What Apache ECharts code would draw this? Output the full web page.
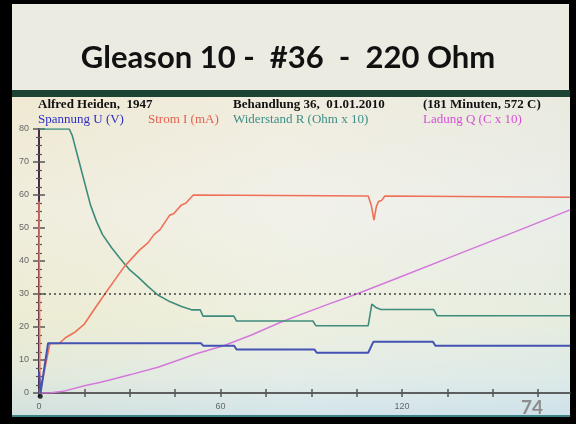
<!DOCTYPE html>
<html>
<head>
<meta charset="utf-8">
<script src="https://cdn.jsdelivr.net/npm/echarts@6/dist/echarts.min.js"></script>
<style>
  html, body { margin: 0; padding: 0; background: #000; }
  #main { width: 576px; height: 424px; }
</style>
</head>
<body>
<div id="main"></div>
<script>
const spannungU = [
  [0, 6.5], [0.5, 0], [3, 15.1], [53.5, 15.1], [54.3, 14.3], [64.5, 14.3], [65.3, 13.2],
  [91, 13.2], [91.8, 12.2], [108.8, 12.2], [110.5, 15.5], [130.2, 15.5], [131, 14.3], [175.5, 14.3]
]
const stromI = [
  [0, 58], [0.3, 0], [3.6, 15], [6.6, 15], [9, 16.9], [12, 18.5], [15, 20.9], [18, 25],
  [21.7, 29.9], [25, 34.2], [28.2, 38.3], [33.2, 43.3], [36, 45.5], [38, 48], [40, 49.5],
  [43.2, 53.9], [44.5, 54.3], [47.1, 57], [48.5, 57.5], [51, 60], [108.8, 59.7], [109.8, 57],
  [110.7, 52.4], [111.5, 56.5], [112.2, 58], [113.2, 58.3], [114.3, 59.7], [175.5, 59.3]
]
const widerstandR = [
  [0, 80], [10, 80], [11, 78], [13, 71], [15, 64], [17, 57], [19, 52], [21, 48], [24, 44],
  [27, 40.5], [30, 37.3], [32.7, 35.2], [36, 32.3], [39.3, 29.7], [43.2, 27.7], [47.1, 26.2],
  [50.4, 25.2], [53.3, 25.2], [54.2, 23.3], [64.4, 23.3], [65.3, 21.8], [90.5, 21.8], [91.5, 20.4],
  [108.8, 20.4], [110, 26.9], [111.5, 25.8], [113, 25.3], [130.4, 25.3], [131.6, 23.4], [175.5, 23.4]
]
const ladungQ = [
  [0, 0], [4, 0.1], [8, 0.5], [15, 2.2], [20, 3.2], [25, 4.3], [30, 5.5], [39.3, 7.8], [45, 9.6],
  [52, 11.9], [61, 14.3], [70, 17.5], [79.3, 21.2], [86, 23.6], [95, 26.7], [105, 30],
  [120, 35.4], [140, 42.6], [160, 49.8], [175.5, 55.5]
]
const nullPunkt = [[0.4, -1]]
const xTicks = [0, 15, 30, 45, 60, 75, 90, 105, 120, 135, 150, 165]
const xLabels = [0, 60, 120]
const yLabels = [0, 10, 20, 30, 40, 50, 60, 70, 80]

const chart = echarts.init(document.getElementById('main'), null, { renderer: 'canvas' })

const serif = '"Liberation Serif", "DejaVu Serif", serif'
const sans = '"Liberation Sans", Arial, sans-serif'

const axisGray = '#555'

function xAxisDef(inside, showLabel) {
  return {
    type: 'value', min: 0, max: 175.5, position: 'bottom',
    axisLine: { show: true, onZero: false, lineStyle: { color: axisGray, width: 1.5 } },
    axisTick: { show: true, inside, length: 4, customValues: xTicks, lineStyle: { color: axisGray, width: 1.5 } },
    axisLabel: { show: showLabel, customValues: xLabels, color: '#666', fontSize: 9, fontFamily: sans, margin: 9 },
    splitLine: { show: false }
  }
}
function yAxisDef(inside, showLabel) {
  return {
    type: 'value', min: 0, max: 80, interval: 10, position: 'left',
    axisLine: { show: true, onZero: false, lineStyle: { color: '#4a2a48', width: 2 } },
    axisTick: { show: true, inside, length: 6, lineStyle: { color: axisGray, width: 1.5 } },
    minorTick: { show: true, splitNumber: 4, length: 3, lineStyle: { color: axisGray, width: 1.2 } },
    axisLabel: {
      show: showLabel, color: '#666', fontSize: 9, fontFamily: sans, margin: 10,
      formatter: v => (yLabels.indexOf(v) >= 0 ? String(v) : '')
    },
    splitLine: { show: false }
  }
}

function lineSeries(name, data, color, width) {
  return {
    name, type: 'line', data, xAxisIndex: 0, yAxisIndex: 0,
    symbol: 'none', smooth: false, clip: true,
    lineStyle: { color, width }, animation: false
  }
}

const spannungSeries = lineSeries('Spannung U (V)', spannungU, '#4352b3', 2)
spannungSeries.markLine = {
  silent: true, symbol: 'none', label: { show: false },
  lineStyle: { color: '#444', type: [2, 3], width: 1.5 },
  data: [{ yAxis: 30 }]
}

chart.setOption({
  animation: false,
  backgroundColor: '#000',
  grid: { left: 39, right: 6, top: 129, bottom: 31 },
  xAxis: [xAxisDef(false, true), xAxisDef(true, false)],
  yAxis: [yAxisDef(false, true), yAxisDef(true, false)],
  graphic: [
    { type: 'rect', z: -10, shape: { x: 12, y: 4, width: 557, height: 86 }, style: { fill: '#ecebe2' } },
    { type: 'rect', z: -10, shape: { x: 12, y: 90, width: 558, height: 7 }, style: { fill: '#1b4434' } },
    {
      type: 'rect', z: -10, shape: { x: 12, y: 97, width: 558, height: 319 },
      style: {
        fill: {
          type: 'linear', x: 0, y: 0, x2: 0, y2: 1,
          colorStops: [
            { offset: 0, color: '#efe9d6' },
            { offset: 0.35, color: '#f0efe4' },
            { offset: 0.7, color: '#ebedd6' },
            { offset: 0.88, color: '#dde9e2' },
            { offset: 1, color: '#c8dee5' }
          ]
        }
      }
    },
    {
      type: 'rect', z: -9, shape: { x: 12, y: 97, width: 558, height: 319 },
      style: {
        fill: {
          type: 'linear', x: 0, y: 0, x2: 1, y2: 0,
          colorStops: [
            { offset: 0, color: 'rgba(240,232,200,0.25)' },
            { offset: 0.5, color: 'rgba(245,247,250,0.25)' },
            { offset: 1, color: 'rgba(220,235,245,0.3)' }
          ]
        }
      }
    },
    { type: 'rect', z: -8, shape: { x: 12, y: 415, width: 558, height: 2 }, style: { fill: '#3f8588' } },
    {
      type: 'text', left: 'center', top: 42, z: 10,
      style: { text: 'Gleason 10 -  #36  -  220 Ohm', fill: '#111', font: 'bold 31px Lato, "Open Sans", sans-serif' }
    },
    { type: 'text', x: 38, y: 98, z: 10, style: { text: 'Alfred Heiden,  1947', fill: '#111', font: 'bold 13px ' + serif } },
    { type: 'text', x: 233, y: 98, z: 10, style: { text: 'Behandlung 36,  01.01.2010', fill: '#111', font: 'bold 13px ' + serif } },
    { type: 'text', x: 423, y: 98, z: 10, style: { text: '(181 Minuten, 572 C)', fill: '#111', font: 'bold 13px ' + serif } },
    { type: 'text', x: 38, y: 113, z: 10, style: { text: 'Spannung U (V)', fill: '#2e2fc4', font: '13px ' + serif } },
    { type: 'text', x: 148, y: 113, z: 10, style: { text: 'Strom I (mA)', fill: '#e5604d', font: '13px ' + serif } },
    { type: 'text', x: 233, y: 113, z: 10, style: { text: 'Widerstand R (Ohm x 10)', fill: '#3d8e86', font: '13px ' + serif } },
    { type: 'text', x: 423, y: 113, z: 10, style: { text: 'Ladung Q (C x 10)', fill: '#d450d6', font: '13px ' + serif } },
    { type: 'text', x: 521, y: 398, z: 10, style: { text: '74', fill: '#8c8c8c', font: 'bold 19px Lato, "Open Sans", sans-serif' } }
  ],
  series: [
    lineSeries('Ladung Q (C x 10)', ladungQ, '#d478db', 1.5),
    lineSeries('Widerstand R (Ohm x 10)', widerstandR, '#3f8c7c', 1.6),
    lineSeries('Strom I (mA)', stromI, '#ee7058', 1.6),
    spannungSeries,
    {
      name: 'Nullpunkt', type: 'scatter', data: nullPunkt, clip: false,
      symbolSize: 5, itemStyle: { color: '#000' }, silent: true
    }
  ]
})
</script>
</body>
</html>
